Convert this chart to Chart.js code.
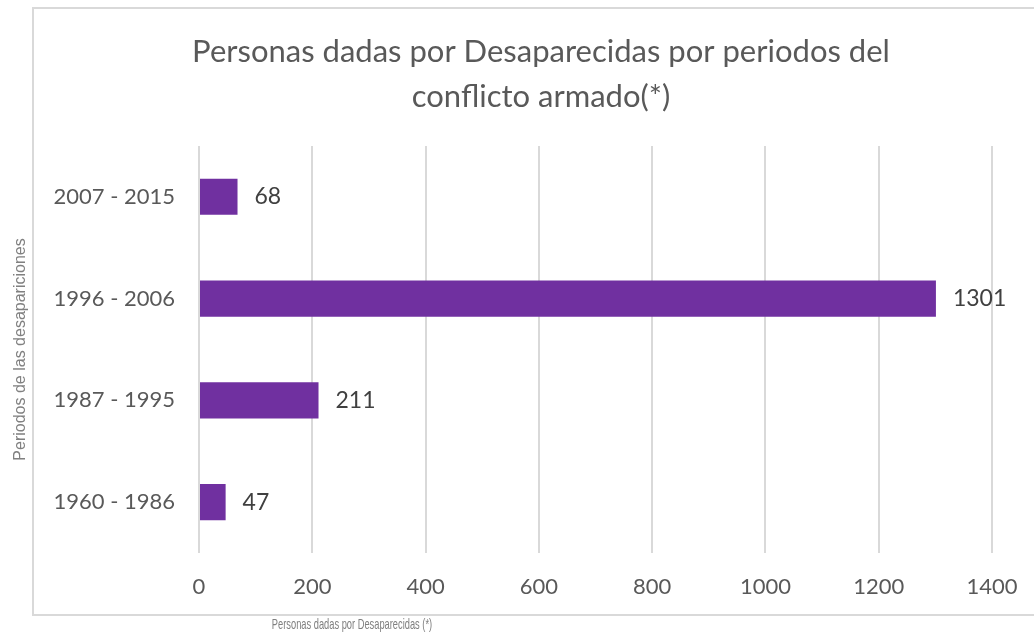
<!DOCTYPE html>
<html>
<head>
<meta charset="utf-8">
<script src="https://cdn.jsdelivr.net/npm/chart.js@4"></script>
<style>
  html, body { margin: 0; padding: 0; background: #ffffff; overflow: hidden; }
  #wrap { position: relative; width: 1082px; height: 634px; }
</style>
</head>
<body>
<div id="wrap"><canvas id="c"></canvas></div>
<script>
const titleLines = ['Personas dadas por Desaparecidas por periodos del', 'conflicto armado(*)'];
const categories = ['2007 - 2015', '1996 - 2006', '1987 - 1995', '1960 - 1986'];
const values = [68, 1301, 211, 47];
const xTickValues = [0, 200, 400, 600, 800, 1000, 1200, 1400];
const yAxisTitle = 'Periodos de las desapariciones';
const xAxisTitle = 'Personas dadas por Desaparecidas (*)';

const MAIN_FONT = 'Lato, Carlito, Calibri, "Open Sans", sans-serif';
const SMALL_FONT = '"Liberation Sans", Arial, sans-serif';

const framePlugin = {
  id: 'frame',
  beforeDraw(chart) {
    const ctx = chart.ctx;
    ctx.save();
    ctx.fillStyle = '#ffffff';
    ctx.fillRect(0, 0, chart.width, chart.height);
    ctx.strokeStyle = '#d9d9d9';
    ctx.lineWidth = 2;
    ctx.strokeRect(33, 8, 1040, 607);
    ctx.restore();
  }
};

const valueLabels = {
  id: 'valueLabels',
  afterDatasetsDraw(chart) {
    const ctx = chart.ctx;
    const meta = chart.getDatasetMeta(0);
    ctx.save();
    ctx.font = '23px ' + MAIN_FONT;
    ctx.fillStyle = '#404040';
    ctx.textAlign = 'left';
    ctx.textBaseline = 'middle';
    meta.data.forEach((bar, i) => {
      ctx.fillText(String(values[i]), bar.x + 17, bar.y);
    });
    ctx.restore();
  }
};

const xTitlePlugin = {
  id: 'xTitle',
  afterDraw(chart) {
    const ctx = chart.ctx;
    ctx.save();
    ctx.font = '15px ' + SMALL_FONT;
    ctx.fillStyle = '#7f7f7f';
    ctx.textAlign = 'center';
    ctx.textBaseline = 'middle';
    ctx.translate(352, 625);
    ctx.scale(0.62, 1);
    ctx.fillText(xAxisTitle, 0, 0);
    ctx.restore();
  }
};

new Chart(document.getElementById('c'), {
  type: 'bar',
  data: {
    labels: categories,
    datasets: [{
      data: values,
      backgroundColor: '#7030a0',
      borderWidth: 0,
      categoryPercentage: 1,
      barPercentage: 0.355
    }]
  },
  options: {
    indexAxis: 'y',
    responsive: true,
    maintainAspectRatio: false,
    animation: false,
    devicePixelRatio: 1,
    layout: { padding: 0 },
    plugins: {
      legend: { display: false },
      tooltip: { enabled: false },
      title: {
        display: true,
        text: titleLines,
        color: '#595959',
        font: { family: MAIN_FONT, size: 31, weight: 'normal', lineHeight: 1.45 },
        padding: { top: 29.5, bottom: 26.5 }
      }
    },
    scales: {
      x: {
        type: 'linear',
        min: 0,
        max: 1400,
        afterBuildTicks(scale) { scale.ticks = xTickValues.map(v => ({ value: v })); },
        afterFit(scale) { scale.height = 81; scale.paddingRight = 90; },
        grid: { color: '#d9d9d9', lineWidth: 2, drawTicks: false },
        border: { display: false },
        ticks: {
          color: '#595959',
          font: { family: MAIN_FONT, size: 22 },
          padding: 21,
          maxRotation: 0,
          callback: (v) => String(v)
        }
      },
      y: {
        afterFit(scale) { scale.width = 199; },
        grid: { display: false },
        border: { display: false },
        ticks: {
          color: '#595959',
          font: { family: MAIN_FONT, size: 22 },
          padding: 16
        },
        title: {
          display: true,
          text: yAxisTitle,
          color: '#808080',
          font: { family: SMALL_FONT, size: 16 },
          padding: { top: 11, bottom: 0 }
        }
      }
    }
  },
  plugins: [framePlugin, valueLabels, xTitlePlugin]
});
</script>
</body>
</html>
